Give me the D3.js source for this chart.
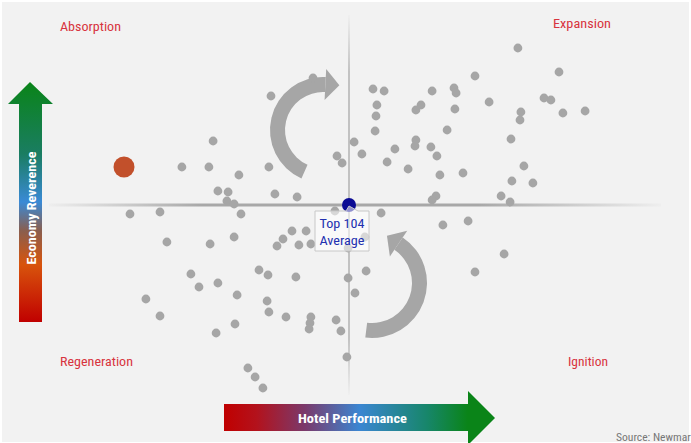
<!DOCTYPE html>
<html>
<head>
<meta charset="utf-8">
<script src="https://cdn.jsdelivr.net/npm/d3@7"></script>
<style>
  body { margin: 0; background: #fff; }
  svg { display: block; font-family: "Roboto Condensed", Roboto, "Noto Sans", sans-serif; }
</style>
</head>
<body>
<div id="chart"></div>
<script>
// Hotel performance (x) and economy (y), index points vs Top 104 average
const marketX = [
  -12, -26, -45.3, -55.7, -46.7, -36.7, -26.7, -4, -2.3, -43.7, -40.3, -24.7, -17.3, -40.7, -38.3,
  -73, -63, -36, -4.7, -60.7, -46.3, -38.3, -19, -14.3, -22, -24, -16.7, -12.7, -0.3, -52.7,
  -50, -43.7, -30, -27, -17.7, -0.3, -37.3, -67.7, -27.3, -26.7, -63, -21, -12.7, -13, -13.3,
  -4.3, -2.7, -38, -44.3, -0.7, -33.7, -31.3, -28.7, 10.7, 31.3, 39.7, 5.3, 51.7, 5.7, 42,
  2, 56.3, 70, 42, 8, 11.7, 27.7, 35, 35.7, 65, 67.3, 46.7, 9.3, 24, 22.3,
  35.3, 57.3, 57, 71.3, 78.7, 9, 8.7, 32.7, 54, 1.7, 22.3, 22, 27.3, 15.3, 4.3,
  29.3, 12.7, 19.7, 30.3, 38, 58.3, 54.3, 61.3, 29, 27.7, 50.7, 53.7
];
const marketY = [
  63.5, 54.5, 32, 19, 19, 15, 19, 24.5, 21, 7, 6.5, 5.5, 4, 2, 0.5,
  -4.5, -3.5, -4.5, -3, -18.5, -19.5, -16, -13, -13, -17, -20.5, -20, -19.5, -21.5, -34.5,
  -41, -39, -32.5, -35, -36, -36.5, -45, -47, -48, -53.5, -55.5, -56, -56, -59, -62,
  -57.5, -63, -59.5, -64, -76, -81.5, -86, -91.5, -4, -10, -8, -16, -24.5, -33, -33.5,
  -44, 78.5, 66.5, 64.5, 58, 57, 57, 58.5, 56, 53.5, 52.5, 51.5, 50, 50, 47.5,
  48, 46.5, 42.5, 46, 47, 44.5, 37, 37.5, 33, 31.5, 32.5, 29.5, 29, 28, 25.5,
  24.5, 21.5, 18, 15, 16, 19.5, 12, 11, 4.5, 2.5, 4.5, 1.5
];
const highlightX = [-75];
const highlightY = [19];
const averageX = [0];
const averageY = [0];

const quadrantNames = ["Absorption", "Expansion", "Regeneration", "Ignition"];
const axisTitles = ["Hotel Performance", "Economy Reverence"];
const averageLabel = ["Top 104", "Average"];
const sourceNote = "Source: Newmark";

const width = 691, height = 443;

const svg = d3.select("#chart").append("svg")
  .attr("width", width)
  .attr("height", height)
  .attr("viewBox", [0, 0, width, height]);

const x = d3.scaleLinear().domain([-100, 100]).range([49, 649]);
const y = d3.scaleLinear().domain([-100, 100]).range([405, 5]);

const defs = svg.append("defs");

function addGradient(id, x2, y2, stops) {
  const g = defs.append("linearGradient").attr("id", id)
    .attr("x1", 0).attr("y1", 0).attr("x2", x2).attr("y2", y2);
  stops.forEach(s => g.append("stop")
    .attr("offset", s[0]).attr("stop-color", s[1]).attr("stop-opacity", s[2] == null ? 1 : s[2]));
}

addGradient("vArrow", 0, 1, [[0, "#0a8418"], [0.3, "#1a7d62"], [0.5, "#3a8ad6"], [0.62, "#8a5e4e"], [0.76, "#d8540c"], [1, "#c00000"]]);
addGradient("hArrow", 1, 0, [[0, "#c00000"], [0.12, "#b3121c"], [0.3, "#7a3a6c"], [0.5, "#3b86d2"], [0.75, "#17866a"], [0.9, "#0a8418"]]);
addGradient("hLine", 1, 0, [[0, "#a8a8a8", 0.05], [0.25, "#a8a8a8", 1], [0.7, "#a8a8a8", 1], [1, "#a8a8a8", 0.05]]);
addGradient("vLine", 0, 1, [[0, "#c2c2c2", 0.05], [0.15, "#c2c2c2", 1], [0.85, "#c2c2c2", 1], [1, "#c2c2c2", 0.05]]);

// background panel
svg.append("rect")
  .attr("x", 2).attr("y", 2)
  .attr("width", width - 4).attr("height", height - 3)
  .attr("fill", "#f2f2f2");

// cross hairs through the average
svg.append("rect")
  .attr("x", x(-100)).attr("y", y(averageY[0]) - 1.5)
  .attr("width", x(104) - x(-100)).attr("height", 3)
  .attr("fill", "url(#hLine)");
svg.append("rect")
  .attr("x", x(averageX[0]) - 1).attr("y", y(95))
  .attr("width", 2).attr("height", y(-95) - y(95))
  .attr("fill", "url(#vLine)");

// curved arrows
function curvedArrow(cx, cy, rIn, rOut, a0, a1, headAt, dir) {
  const g = svg.append("g").attr("fill", "#a6a6a6");
  g.append("path")
    .attr("transform", `translate(${cx},${cy})`)
    .attr("d", d3.arc().innerRadius(rIn).outerRadius(rOut).startAngle(a0).endAngle(a1)());
  const t = headAt, rm = (rIn + rOut) / 2, len = 14;
  const pt = r => [cx + r * Math.sin(t), cy - r * Math.cos(t)];
  const w1 = pt(rOut + 8), w2 = pt(rIn - 8), m = pt(rm);
  const tip = [m[0] + dir * len * Math.cos(t), m[1] + dir * len * Math.sin(t)];
  g.append("path").attr("d", `M${w1}L${tip}L${w2}Z`);
}
const deg = Math.PI / 180;
curvedArrow(323, 130, 38, 53, -156 * deg, 3 * deg, 3 * deg, 1);
curvedArrow(372, 283, 40, 55, 34 * deg, 187 * deg, 34 * deg, -1);

// market points
const markets = marketX.map((v, i) => ({ x: v, y: marketY[i] }));
svg.append("g").selectAll("circle")
  .data(markets)
  .join("circle")
  .attr("cx", d => x(d.x))
  .attr("cy", d => y(d.y))
  .attr("r", 4.4)
  .attr("fill", "#a6a6a6");

svg.append("g").selectAll("circle")
  .data(highlightX.map((v, i) => ({ x: v, y: highlightY[i] })))
  .join("circle")
  .attr("cx", d => x(d.x))
  .attr("cy", d => y(d.y))
  .attr("r", 10.5)
  .attr("fill", "#c2502b");

svg.append("g").selectAll("circle")
  .data(averageX.map((v, i) => ({ x: v, y: averageY[i] })))
  .join("circle")
  .attr("cx", d => x(d.x))
  .attr("cy", d => y(d.y))
  .attr("r", 7)
  .attr("fill", "#0b0b94");

// callout for the average
const ax = x(averageX[0]), ay = y(averageY[0]);
const bx0 = ax - 34, bx1 = ax + 20, by0 = ay + 6, by1 = ay + 46;
svg.append("path")
  .attr("d", `M${bx0},${by0}H${ax - 3}L${ax},${ay + 1}L${ax + 9},${by0}H${bx1}V${by1}H${bx0}Z`)
  .attr("fill", "#ffffff").attr("fill-opacity", 0.55)
  .attr("stroke", "#c8c8c8").attr("stroke-width", 1);
svg.append("g").selectAll("text")
  .data(averageLabel)
  .join("text")
  .attr("x", (bx0 + bx1) / 2)
  .attr("y", (d, i) => ay + 23 + i * 17)
  .attr("text-anchor", "middle")
  .attr("font-size", 12.5)
  .attr("fill", "#2230b0")
  .attr("textLength", 45)
  .attr("lengthAdjust", "spacingAndGlyphs")
  .text(d => d);

// quadrant names
const quadPos = [
  { x: 60, y: 31, w: 61 }, { x: 553, y: 28, w: 58 },
  { x: 60, y: 366, w: 73 }, { x: 568, y: 366, w: 40 }
];
svg.append("g").selectAll("text")
  .data(quadrantNames)
  .join("text")
  .attr("x", (d, i) => quadPos[i].x)
  .attr("y", (d, i) => quadPos[i].y)
  .attr("font-size", 13)
  .attr("fill", "#d8343e")
  .attr("textLength", (d, i) => quadPos[i].w)
  .attr("lengthAdjust", "spacingAndGlyphs")
  .text(d => d);

// vertical axis arrow
svg.append("path")
  .attr("d", "M19,322V104H8L30,82L53,104H42V322Z")
  .attr("fill", "url(#vArrow)");
svg.append("text")
  .attr("transform", "translate(36,208) rotate(-90)")
  .attr("text-anchor", "middle")
  .attr("font-size", 12.5)
  .attr("font-weight", "bold")
  .attr("fill", "#ffffff")
  .attr("textLength", 113)
  .attr("lengthAdjust", "spacingAndGlyphs")
  .text(axisTitles[1]);

// horizontal axis arrow
svg.append("path")
  .attr("d", "M224,404H468V391L495,418L468,445V431H224Z")
  .attr("fill", "url(#hArrow)");
svg.append("text")
  .attr("x", 352.5).attr("y", 422.5)
  .attr("text-anchor", "middle")
  .attr("font-size", 13)
  .attr("font-weight", "bold")
  .attr("fill", "#ffffff")
  .attr("textLength", 109)
  .attr("lengthAdjust", "spacingAndGlyphs")
  .text(axisTitles[0]);

svg.append("text")
  .attr("x", 616).attr("y", 441)
  .attr("font-size", 10)
  .attr("fill", "#777777")
  .attr("textLength", 80)
  .attr("lengthAdjust", "spacingAndGlyphs")
  .text(sourceNote);
</script>
</body>
</html>
